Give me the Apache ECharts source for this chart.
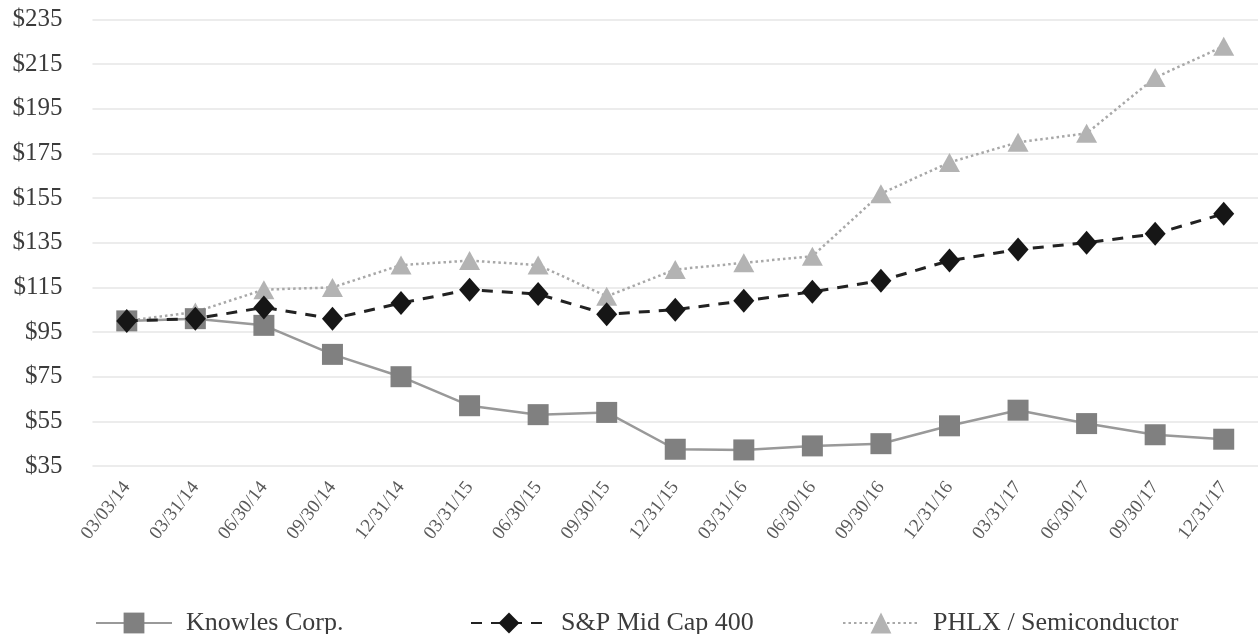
<!DOCTYPE html>
<html>
<head>
<meta charset="utf-8">
<script src="https://cdn.jsdelivr.net/npm/echarts@6/dist/echarts.min.js"></script>
<style>
html,body{margin:0;padding:0;background:#fff;}
#c{width:1258px;height:634px;}
</style>
</head>
<body>
<div id="c"></div>
<script>
const categories = ['03/03/14','03/31/14','06/30/14','09/30/14','12/31/14','03/31/15','06/30/15','09/30/15','12/31/15','03/31/16','06/30/16','09/30/16','12/31/16','03/31/17','06/30/17','09/30/17','12/31/17'];
const knowles = [100,101,98,85,75,62,58,59,42.5,42.2,44,45,53,60,54,49,47];
const spMidCap = [100,101,106,101,108,114,112,103,105,109,113,118,127,132,135,139,148];
const phlx = [100,104,114,115,125,127,125,111,123,126,129,157,171,180,184,209,223];
const yMin = 35, yMax = 235, yStep = 20;

const chart = echarts.init(document.getElementById('c'), null, {renderer:'canvas'});
const font = 'Liberation Serif';
const legendBase = {
  top: 605, itemWidth: 76, itemHeight: 26, itemGap: 0,
  textStyle: {fontFamily: font, fontSize: 26, color: '#3c3c3c', padding: [0,0,0,9]}
};
chart.setOption({
  animation: false,
  backgroundColor: '#ffffff',
  grid: {left: 92.5, top: 19.5, height: 446.5, width: 1175, containLabel: false},
  legend: [
    Object.assign({}, legendBase, {left: 90, data: ['Knowles Corp.']}),
    Object.assign({}, legendBase, {left: 465, data: ['S&P Mid Cap 400']}),
    Object.assign({}, legendBase, {left: 837, data: ['PHLX / Semiconductor']})
  ],
  xAxis: {
    type: 'category', data: categories, boundaryGap: true,
    axisLine: {show: false}, axisTick: {show: false},
    axisLabel: {rotate: 52, fontFamily: font, fontSize: 19, color: '#5a5a5a', margin: 18}
  },
  yAxis: {
    type: 'value', min: yMin, max: yMax, interval: yStep,
    axisLine: {show: false}, axisTick: {show: false},
    axisLabel: {fontFamily: font, fontSize: 25, color: '#3c3c3c', margin: 30, formatter: v => '$' + v},
    splitLine: {lineStyle: {color: '#ececec', width: 2}}
  },
  series: [
    {
      name: 'Knowles Corp.', type: 'line', data: knowles,
      symbol: 'rect', symbolSize: 21,
      itemStyle: {color: '#808080'},
      lineStyle: {color: '#999999', width: 2.5},
      z: 3
    },
    {
      name: 'S&P Mid Cap 400', type: 'line', data: spMidCap,
      symbol: 'diamond', symbolSize: [21, 24],
      itemStyle: {color: '#161616'},
      lineStyle: {color: '#222', width: 3, type: [11, 9]},
      z: 4
    },
    {
      name: 'PHLX / Semiconductor', type: 'line', data: phlx,
      symbol: 'triangle', symbolSize: [21, 19],
      itemStyle: {color: '#b3b3b3'},
      lineStyle: {color: '#a8a8a8', width: 2.5, type: [2.5, 3]},
      z: 2
    }
  ]
});
</script>
</body>
</html>
